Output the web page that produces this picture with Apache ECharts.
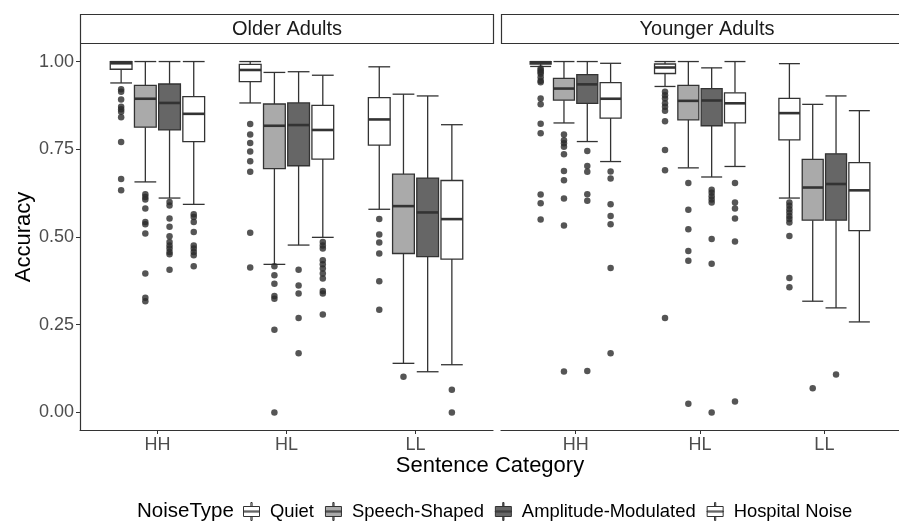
<!DOCTYPE html>
<html>
<head>
<meta charset="utf-8">
<script src="https://cdn.jsdelivr.net/npm/echarts@6/dist/echarts.min.js"></script>
<style>
  html, body { margin: 0; padding: 0; background: #fff; }
  #chart { width: 899px; height: 521px; }
</style>
</head>
<body>
<div id="chart"></div>
<script>
const categories = ['HH', 'HL', 'LL'];
const noiseTypes = ['Quiet', 'Speech-Shaped', 'Amplitude-Modulated', 'Hospital Noise'];
const panels = ['Older Adults', 'Younger Adults'];
const fills = ['#ffffff', '#aaaaaa', '#666666', '#ffffff'];
const yTicks = [0, 0.25, 0.5, 0.75, 1];

// [lower whisker, q1, median, q3, upper whisker] for HH, HL, LL
const olderQuiet = [[0.939, 0.978, 0.995, 1.0, 1.0], [0.882, 0.943, 0.976, 0.992, 1.0], [0.579, 0.762, 0.835, 0.897, 0.985]];
const olderSpeech = [[0.657, 0.813, 0.894, 0.932, 1.0], [0.422, 0.695, 0.817, 0.879, 0.969], [0.14, 0.453, 0.588, 0.679, 0.907]];
const olderAM = [[0.611, 0.805, 0.882, 0.936, 1.0], [0.477, 0.703, 0.819, 0.882, 0.971], [0.116, 0.444, 0.57, 0.668, 0.902]];
const olderHospital = [[0.593, 0.772, 0.851, 0.9, 1.0], [0.499, 0.722, 0.805, 0.875, 0.961], [0.136, 0.437, 0.551, 0.661, 0.82]];
const youngerQuiet = [[0.986, 0.993, 0.997, 1.0, 1.0], [0.929, 0.966, 0.983, 0.993, 1.0], [0.611, 0.777, 0.853, 0.895, 0.994]];
const youngerSpeech = [[0.825, 0.89, 0.923, 0.952, 1.0], [0.697, 0.834, 0.888, 0.932, 1.0], [0.317, 0.548, 0.641, 0.721, 0.878]];
const youngerAM = [[0.772, 0.881, 0.935, 0.963, 1.0], [0.671, 0.817, 0.889, 0.923, 0.982], [0.298, 0.548, 0.651, 0.737, 0.902]];
const youngerHospital = [[0.715, 0.839, 0.894, 0.94, 0.995], [0.701, 0.825, 0.881, 0.911, 1.0], [0.258, 0.518, 0.633, 0.712, 0.86]];

// outliers for HH, HL, LL
const olderQuietOut = [[0.921, 0.914, 0.892, 0.871, 0.864, 0.857, 0.841, 0.771, 0.665, 0.633], [0.822, 0.792, 0.768, 0.744, 0.716, 0.686, 0.512, 0.413], [0.551, 0.507, 0.484, 0.453, 0.374, 0.293]];
const olderSpeechOut = [[0.622, 0.614, 0.607, 0.581, 0.543, 0.536, 0.51, 0.396, 0.327, 0.317], [0.417, 0.391, 0.367, 0.332, 0.324, 0.236, 0.0], [0.102]];
const olderAMOut = [[0.6, 0.59, 0.553, 0.529, 0.502, 0.486, 0.476, 0.467, 0.457, 0.451, 0.407], [0.407, 0.362, 0.339, 0.269, 0.169], []];
const olderHospitalOut = [[0.565, 0.557, 0.543, 0.514, 0.476, 0.467, 0.457, 0.448, 0.417], [0.486, 0.476, 0.467, 0.434, 0.422, 0.41, 0.396, 0.382, 0.346, 0.339, 0.279], [0.065, 0.0]];
const youngerQuietOut = [[0.98, 0.975, 0.97, 0.965, 0.955, 0.945, 0.941, 0.895, 0.878, 0.823, 0.796, 0.621, 0.596, 0.55], [0.914, 0.904, 0.895, 0.881, 0.871, 0.86, 0.83, 0.748, 0.69, 0.269], [0.598, 0.589, 0.579, 0.57, 0.56, 0.551, 0.541, 0.503, 0.383, 0.357]];
const youngerSpeechOut = [[0.792, 0.776, 0.767, 0.757, 0.736, 0.688, 0.662, 0.61, 0.533, 0.117], [0.654, 0.578, 0.522, 0.46, 0.432, 0.025], [0.069]];
const youngerAMOut = [[0.745, 0.702, 0.686, 0.622, 0.603, 0.118], [0.635, 0.626, 0.616, 0.607, 0.598, 0.494, 0.424, 0.0], [0.108]];
const youngerHospitalOut = [[0.687, 0.667, 0.593, 0.56, 0.536, 0.412, 0.169], [0.654, 0.598, 0.581, 0.553, 0.487, 0.031], []];

const boxes = [
  [olderQuiet, olderSpeech, olderAM, olderHospital],
  [youngerQuiet, youngerSpeech, youngerAM, youngerHospital]
];
const outliers = [
  [olderQuietOut, olderSpeechOut, olderAMOut, olderHospitalOut],
  [youngerQuietOut, youngerSpeechOut, youngerAMOut, youngerHospitalOut]
];

// dodge like ggplot: 0.75 wide group, boxes 90% of their slot
const dodge = 0.75;
const slot = dodge / noiseTypes.length;
const boxWidth = slot * 0.9;
const offsets = noiseTypes.map((n, i) => -dodge / 2 + slot * (i + 0.5));

const font = 'Liberation Sans, Arial, Helvetica, sans-serif';
const ink = '#333333';

function makeRender (offset) {
  return function (params, api) {
    const x = api.value(0) + offset;
    const lo = api.coord([x, api.value(1)]);
    const q1 = api.coord([x, api.value(2)]);
    const med = api.coord([x, api.value(3)]);
    const q3 = api.coord([x, api.value(4)]);
    const hi = api.coord([x, api.value(5)]);
    const half = api.size([boxWidth, 0])[0] / 2;
    const cx = lo[0];
    const line = {stroke: ink, lineWidth: 1.3};
    return {
      type: 'group',
      children: [
        {type: 'line', shape: {x1: cx, y1: hi[1], x2: cx, y2: q3[1]}, style: line},
        {type: 'line', shape: {x1: cx, y1: q1[1], x2: cx, y2: lo[1]}, style: line},
        {type: 'line', shape: {x1: cx - half, y1: hi[1], x2: cx + half, y2: hi[1]}, style: line},
        {type: 'line', shape: {x1: cx - half, y1: lo[1], x2: cx + half, y2: lo[1]}, style: line},
        {type: 'rect', shape: {x: cx - half, y: q3[1], width: half * 2, height: q1[1] - q3[1]},
          style: {fill: api.visual('color'), stroke: ink, lineWidth: 1.3}},
        {type: 'line', shape: {x1: cx - half, y1: med[1], x2: cx + half, y2: med[1]},
          style: {stroke: ink, lineWidth: 2.6}}
      ]
    };
  };
}

const series = [];
panels.forEach((p, pi) => {
  noiseTypes.forEach((n, ni) => {
    series.push({
      name: n,
      type: 'custom',
      xAxisIndex: pi,
      yAxisIndex: pi,
      itemStyle: {color: fills[ni]},
      renderItem: makeRender(offsets[ni]),
      encode: {x: 0, y: [1, 2, 3, 4, 5]},
      data: boxes[pi][ni].map((b, ci) => [ci + 1].concat(b)),
      silent: true
    });
    const pts = [];
    outliers[pi][ni].forEach((vals, ci) => {
      vals.forEach(v => pts.push([ci + 1 + offsets[ni], v]));
    });
    series.push({
      name: n + ' outliers',
      type: 'scatter',
      xAxisIndex: pi,
      yAxisIndex: pi,
      symbolSize: 6.5,
      itemStyle: {color: '#2b2b2b'},
      data: pts,
      silent: true
    });
  });
});

const xAxes = panels.map((p, pi) => ({
  type: 'value',
  gridIndex: pi,
  min: 0.4,
  max: 3.6,
  splitLine: {show: false},
  axisLine: {show: true, onZero: false, lineStyle: {color: ink, width: 1.2}},
  axisTick: {show: true, length: 4, customValues: [1, 2, 3], lineStyle: {color: ink}},
  axisLabel: {
    customValues: [1, 2, 3],
    formatter: v => categories[Math.round(v) - 1],
    color: '#4d4d4d', fontSize: 18, fontFamily: font, margin: 6
  }
}));

const yAxes = panels.map((p, pi) => ({
  type: 'value',
  gridIndex: pi,
  min: -0.05,
  max: 1.05,
  show: pi === 0,
  name: pi === 0 ? 'Accuracy' : '',
  nameLocation: 'middle',
  nameGap: 44,
  nameTextStyle: {color: '#000', fontSize: 22, fontFamily: font},
  splitLine: {show: false},
  axisLine: {show: true, onZero: false, lineStyle: {color: ink, width: 1.2}},
  axisTick: {show: true, length: 4, customValues: yTicks, lineStyle: {color: ink}},
  axisLabel: {
    customValues: yTicks,
    formatter: v => v.toFixed(2),
    color: '#4d4d4d', fontSize: 18, fontFamily: font, margin: 6
  }
}));

const legendIcon = 'path://M7.4,0 L8.6,0 L8.6,4 L7.4,4 Z M0,4 L16,4 L16,14 L0,14 Z M0,8.5 L16,8.5 L16,9.5 L0,9.5 Z M7.4,14 L8.6,14 L8.6,18 L7.4,18 Z';

const option = {
  animation: false,
  backgroundColor: '#fff',
  grid: [
    {left: 80, top: 44, width: 413, height: 386},
    {left: 501, top: 44, width: 413, height: 386}
  ],
  xAxis: xAxes,
  yAxis: yAxes,
  legend: {
    left: 243,
    top: 502,
    padding: 0,
    itemWidth: 17,
    itemHeight: 18,
    itemGap: 11,
    selectedMode: false,
    textStyle: {color: '#000', fontSize: 18.4, fontFamily: font, padding: [0, 0, 0, 5]},
    data: noiseTypes.map((n, i) => ({
      name: n,
      icon: legendIcon,
      itemStyle: {color: fills[i], borderColor: ink, borderWidth: 1}
    }))
  },
  graphic: [
    {type: 'rect', shape: {x: 80.5, y: 14.5, width: 413, height: 29},
      style: {fill: '#fff', stroke: ink, lineWidth: 1.2}, silent: true},
    {type: 'rect', shape: {x: 501.5, y: 14.5, width: 413, height: 29},
      style: {fill: '#fff', stroke: ink, lineWidth: 1.2}, silent: true},
    {type: 'text', x: 287, y: 29, style: {text: panels[0], fill: '#1a1a1a', font: '20px ' + font, textAlign: 'center', textVerticalAlign: 'middle'}},
    {type: 'text', x: 707, y: 29, style: {text: panels[1], fill: '#1a1a1a', font: '20px ' + font, textAlign: 'center', textVerticalAlign: 'middle'}},
    {type: 'text', x: 490, y: 466, style: {text: 'Sentence Category', fill: '#000', font: '22px ' + font, textAlign: 'center', textVerticalAlign: 'middle'}},
    {type: 'text', x: 137, y: 511, style: {text: 'NoiseType', fill: '#000', font: '20.5px ' + font, textAlign: 'left', textVerticalAlign: 'middle'}}
  ],
  series: series
};

const chart = echarts.init(document.getElementById('chart'), null, {renderer: 'canvas'});
chart.setOption(option);
</script>
</body>
</html>
